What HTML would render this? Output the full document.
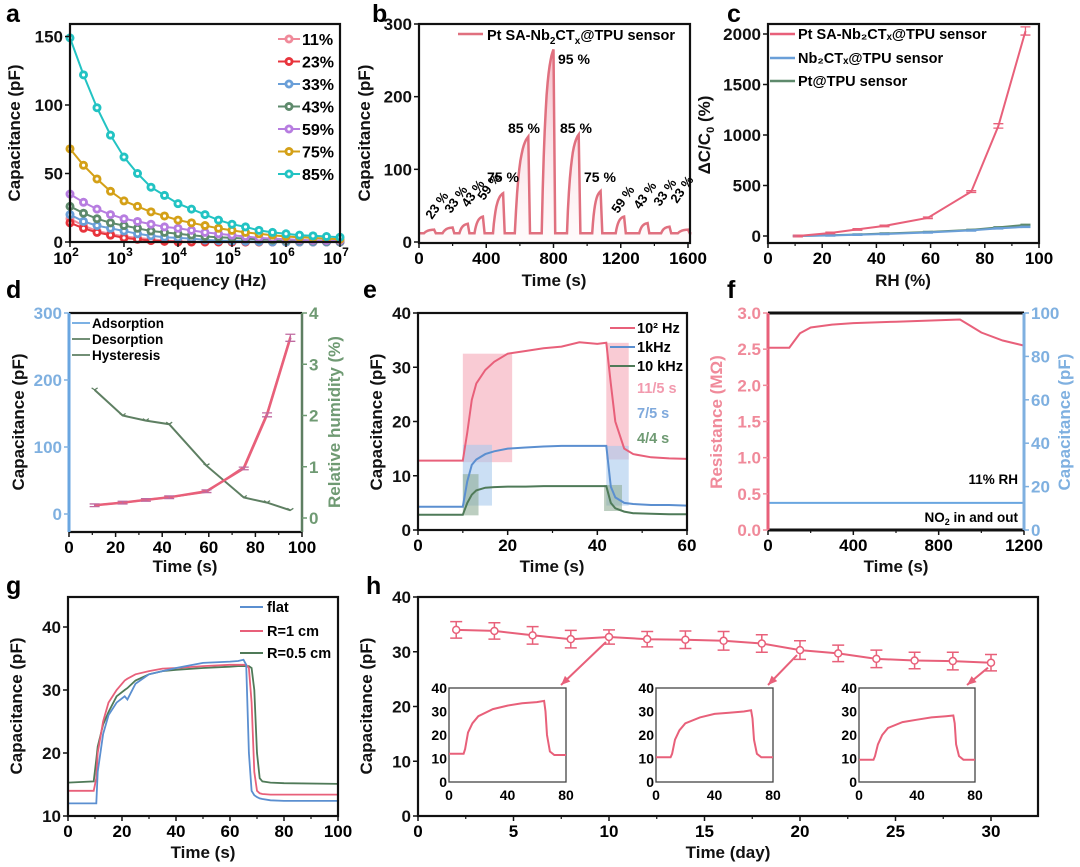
<!DOCTYPE html>
<html><head><meta charset="utf-8"><style>
html,body{margin:0;padding:0;background:#fff;}
svg{display:block;font-family:"Liberation Sans",Arial,sans-serif;font-weight:bold;}
</style></head><body>
<svg id="fig" width="1080" height="867" viewBox="0 0 1080 867" xmlns="http://www.w3.org/2000/svg"></svg>
<script>
// ---------- data ----------
const aExp=[2,2.25,2.5,2.75,3,3.25,3.5,3.75,4,4.25,4.5,4.75,5,5.25,5.5,5.75,6,6.25,6.5,6.75,7];
const aLabels=['11%','23%','33%','43%','59%','75%','85%'];
const aColors=['#f08a9a','#e8343c','#6a9fd8','#5e8a6c','#b77de0','#d4a017','#22c3c3'];
const a11=[17,12,8,6,4,3,2,1,0.5,0,0,0,0,0,0,0,0,0,0,0,0];
const a23=[14,10,7,5,3,2,1,0.5,0,0,0,0,0,0,0,0,0,0,0,0,0];
const a33=[20,15,12,10,8,6,4.5,3.5,3,2.5,1.5,1,0.8,0.5,0.3,0,0,0,0,0,0];
const a43=[26,21,17,14,12,10,8,7,6,5,4,3.5,3,2.5,2,1.5,1,1,0.8,0.6,0.5];
const a59=[35,29,24,20,17,15,13,11,10,8.5,7,6,5,4,3,2.5,2,1.5,1.2,1,1];
const a75=[68,56,46,37,30,26,22,19,16,14,12,10,8.5,7,6,5,4,3.5,3,2.5,2];
const a85=[149,122,98,78,62,50,40,34,28,24,20,16,13,11,8.5,7,6,5,4.5,4,3.5];
const bStarts=[30,140,240,330,440,570,730,880,1030,1170,1310,1440,1540];
const bEnds=[90,200,290,380,500,650,800,950,1080,1220,1360,1490,1600];
const bPeaks=[17,20,25,35,67,145,265,148,70,35,26,21,17];
const bBase=12;
const cRH=[11,23,33,43,59,75,85,95];
const cPt=[0,30,65,100,180,440,1090,2030];
const cNb=[0,5,12,20,35,55,75,90];
const cPtT=[0,8,15,25,40,60,85,110];
const dRH=[11,23,33,43,59,75,85,95];
const dAds=[13,17,21,25,34,68,148,263];
const dDes=[13,17,21,25,33,70,150,265];
const dHys=[2.5,2.0,1.9,1.83,1.02,0.4,0.3,0.15];
const eT=[0,10,11,12,13,15,17,20,24,28,32,36,40,42,43,44,46,48,52,56,60];
const ePink=[12.8,12.8,18,24,27,29.5,31,32.5,33,33.5,33.8,34.6,34.3,34.5,27,20,15,14,13.4,13.2,13.1];
const eBlue=[4.3,4.3,9,12,13,14,14.5,15,15.2,15.4,15.5,15.5,15.5,15.5,8,6,5,4.8,4.6,4.6,4.5];
const eGreen=[2.8,2.8,5,6.5,7.3,7.8,7.9,8,8,8.1,8.1,8.1,8.1,8.1,5,4,3.4,3.1,3,2.9,2.9];
const fT=[0,100,120,150,200,300,400,600,800,900,950,1000,1100,1200];
const fRes=[2.52,2.52,2.6,2.72,2.8,2.84,2.86,2.88,2.9,2.91,2.82,2.73,2.62,2.55];
const fCap=[12.5,12.5,12.5,12.5,12.5,12.5,12.5,12.5,12.5,12.5,12.5,12.5,12.5,12.5];
const gT=[0,9.5,10.5,11,13,15,18,21,22,25,30,35,40,50,60,63,65,66,67,68,69,70,71,72,75,80,100];
const gFlat=[12,12,12,17,23,26,28,29,28.5,31,32.5,33,33.5,34.3,34.5,34.6,34.8,34,20,14,13.3,13,12.8,12.7,12.5,12.4,12.4];
const gR1=[14,14,16,20,25,28,30,31.5,31.8,32.5,33,33.4,33.5,33.8,34,34,34,34,33.5,28,17,14,13.6,13.5,13.4,13.4,13.4];
const gR05=[15.3,15.5,19,21,24.5,26.5,29,30,30.3,31.5,32.5,33,33.2,33.5,33.7,33.8,33.8,33.8,33.8,33.5,30,20,16,15.5,15.3,15.2,15.1];
const hDays=[2,4,6,8,10,12,14,16,18,20,22,24,26,28,30];
const hCap=[34,33.8,33,32.3,32.7,32.3,32.2,32,31.5,30.3,29.7,28.7,28.4,28.3,28];
const hErr=[1.5,1.5,1.6,1.6,1.3,1.4,1.6,1.7,1.6,1.7,1.5,1.6,1.5,1.6,1.5];
const insT=[0,10,11,13,16,20,30,40,50,60,65,66,67,69,72,80];
const ins1=[12,12,14,21,25,28,31,32.5,33.5,34,34.5,30,20,13,11.5,11.5];
const ins2=[10.5,10.5,12,18,22,25,27.5,29,29.5,30,30.5,27,18,12,10.5,10.5];
const ins3=[9.5,9.5,11,16,20,23,25.5,26.5,27.5,28,28.3,25,16,11,9.5,9.5];

// ---------- helpers ----------
const NS='http://www.w3.org/2000/svg';
const svg=document.getElementById('fig');
function mk(parent,tag,attrs,name,txt){
  const el=document.createElementNS(NS,tag);
  for(const k in attrs) el.setAttribute(k,attrs[k]);
  
  
  if(txt!==undefined) el.textContent=txt;
  parent.appendChild(el);
  return el;
}
function lin(d0,d1,r0,r1){return v=>r0+(v-d0)/(d1-d0)*(r1-r0);}
function path(xs,ys,sx,sy){return xs.map((x,i)=>(i?'L':'M')+sx(x).toFixed(1)+','+sy(ys[i]).toFixed(1)).join(' ');}
function frame(g,x0,y0,x1,y1,name){mk(g,'rect',{x:x0,y:y0,width:x1-x0,height:y1-y0,fill:'none',stroke:'#111','stroke-width':2.2},name);}
function xAxis(g,ticks,sx,y1,fs,minor){
  ticks.forEach(t=>{
    mk(g,'line',{x1:sx(t),x2:sx(t),y1:y1,y2:y1+5,stroke:'#111','stroke-width':1.5},'x-tick');
    mk(g,'text',{x:sx(t),y:y1+21,'text-anchor':'middle','font-size':fs||17},'x-tick-label',String(t));
  });
  (minor||[]).forEach(t=>mk(g,'line',{x1:sx(t),x2:sx(t),y1:y1,y2:y1+3,stroke:'#111','stroke-width':1.2},'x-minor-tick'));
}
function yAxis(g,ticks,labels,sy,x0,fs,color,side){
  ticks.forEach((t,i)=>{
    const dir=side==='right'?1:-1;
    mk(g,'line',{x1:x0,x2:x0+dir*5,y1:sy(t),y2:sy(t),stroke:color||'#111','stroke-width':1.5},'y-tick');
    mk(g,'text',{x:x0+dir*7,y:sy(t)+6,'text-anchor':side==='right'?'start':'end','font-size':fs||17,fill:color||'#111'},'y-tick-label',labels[i]);
  });
}
function title(g,x,y,txt,name,rot,color,fs){
  const a={x:x,y:y,'text-anchor':'middle','font-size':fs||17,fill:color||'#111'};
  if(rot) a.transform='rotate(-90 '+x+' '+y+')';
  return mk(g,'text',a,name,txt);
}
function letter(x,y,l){mk(svg,'text',{x:x,y:y,'font-size':25},'panel-label-'+l,l);}

// ---------- panel a ----------
{
const g=mk(svg,'g',{},'panel-a');
const sx=lin(2,7,70,340), sy=lin(0,50,242,173.5);
const series=[a11,a23,a33,a43,a59,a75,a85];
series.forEach((s,i)=>{
  mk(g,'path',{d:path(aExp,s,sx,sy),fill:'none',stroke:aColors[i],'stroke-width':2},'line-'+aLabels[i]);
  aExp.forEach((e,j)=>{
    mk(g,'circle',{cx:sx(e),cy:sy(s[j]),r:4.5,fill:aColors[i]},'point-'+aLabels[i]);
    mk(g,'circle',{cx:sx(e),cy:sy(s[j]),r:1.6,fill:'#fff'},'point-center');
  });
});
frame(g,70,24,340,242,'plot-frame');
[2,3,4,5,6,7].forEach(e=>{
  mk(g,'line',{x1:sx(e),x2:sx(e),y1:242,y2:247,stroke:'#111','stroke-width':1.5},'x-tick');
  const t=mk(g,'text',{x:sx(e)-4,y:264,'text-anchor':'middle','font-size':17},'x-tick-label','10');
  const ts=document.createElementNS(NS,'tspan');ts.setAttribute('dy','-8');ts.setAttribute('font-size','12');ts.textContent=String(e);t.appendChild(ts);
});
yAxis(g,[0,50,100,150],['0','50','100','150'],sy,70);
title(g,205,286,'Frequency (Hz)','x-axis-title');
title(g,20,133,'Capacitance (pF)','y-axis-title',true);
aLabels.forEach((l,i)=>{
  const y=39+i*22.5;
  mk(g,'line',{x1:278,x2:300,y1:y,y2:y,stroke:aColors[i],'stroke-width':2},'legend-line');
  mk(g,'circle',{cx:289,cy:y,r:4.5,fill:aColors[i]},'legend-marker');
  mk(g,'circle',{cx:289,cy:y,r:1.6,fill:'#fff'},'legend-marker-center');
  mk(g,'text',{x:302,y:y+6,'font-size':16},'legend-entry',l);
});
letter(6,22,'a');
}
// ---------- panel b ----------
{
const g=mk(svg,'g',{},'panel-b');
const sx=lin(0,1600,419,688), sy=lin(0,300,242,24);
const defs=mk(svg,'defs',{},'defs');
const gr=mk(defs,'linearGradient',{id:'bgrad',x1:0,y1:0,x2:0,y2:1},'gradient');
mk(gr,'stop',{offset:'0','stop-color':'#e8607a','stop-opacity':'0.75'},'stop');
mk(gr,'stop',{offset:'1','stop-color':'#fbe3e8','stop-opacity':'0.3'},'stop');
let xs=[0],ys=[bBase];
bStarts.forEach((s,i)=>{
  const e=bEnds[i],p=bPeaks[i];
  xs.push(s);ys.push(bBase);
  for(let k=1;k<=12;k++){const t=s+(e-s)*k/12;xs.push(t);ys.push(bBase+(p-bBase)*(1-Math.exp(-3*k/12))/(1-Math.exp(-3)));}
  xs.push(e+10);ys.push(bBase);
});
xs.push(1620);ys.push(bBase);
const d=path(xs,ys,sx,sy);
mk(g,'path',{d:d+' L'+sx(1620)+','+sy(0)+' L'+sx(0)+','+sy(0)+' Z',fill:'url(#bgrad)',opacity:0.55},'area-fill');
mk(g,'path',{d:d,fill:'none',stroke:'#e0707f','stroke-width':2.5},'series-line');
frame(g,419,24,690,243,'plot-frame');
xAxis(g,[0,400,800,1200,1600],sx,243,17,[200,600,1000,1400]);
yAxis(g,[0,100,200,300],['0','100','200','300'],sy,419);
title(g,554,286,'Time (s)','x-axis-title');
title(g,370,133,'Capacitance (pF)','y-axis-title',true);
mk(g,'line',{x1:458,x2:483,y1:34,y2:34,stroke:'#e0707f','stroke-width':2.5},'legend-line');
const lt=mk(g,'text',{x:487,y:40,'font-size':14.5},'legend-entry','Pt SA-Nb');
[['2','10','4'],['CT','','-4'],['x','10','4'],['@TPU sensor','','-4']].forEach(([s,f,dy])=>{const ts=document.createElementNS(NS,'tspan');if(f)ts.setAttribute('font-size',f);ts.setAttribute('dy',dy);ts.textContent=s;lt.appendChild(ts);});
const hl=[['95 %',558,64],['85 %',508,133],['85 %',560,133],['75 %',487,182],['75 %',584,182]];
hl.forEach(a=>mk(g,'text',{x:a[1],y:a[2],'font-size':14},'peak-label',a[0]));
const rl=[['23 %',432,220],['33 %',451,214],['43 %',468,208],['59 %',484,201],['59 %',618,214],['43 %',640,210],['33 %',660,207],['23 %',677,204]];
rl.forEach(a=>mk(g,'text',{x:a[1],y:a[2],'font-size':13,transform:'rotate(-55 '+a[1]+' '+a[2]+')'},'peak-label',a[0]));
letter(372,22,'b');
}
// ---------- panel c ----------
{
const g=mk(svg,'g',{},'panel-c');
const sx=lin(0,100,768,1039), sy=lin(0,2000,236,34);
const cs=[[cPtT,'#5e8a6c','pt-tpu'],[cNb,'#6a9fd8','nb-tpu'],[cPt,'#e8607a','pt-sa-nb']];
cs.forEach(([s,c,n])=>{
  mk(g,'path',{d:path(cRH,s,sx,sy),fill:'none',stroke:c,'stroke-width':2},'line-'+n);
  cRH.forEach((x,i)=>{
    const e=n==='pt-sa-nb'?Math.max(8,s[i]*0.02):6;
    mk(g,'path',{d:'M'+sx(x)+','+sy(s[i]-e)+'V'+sy(s[i]+e)+'M'+(sx(x)-5)+','+sy(s[i]-e)+'h10M'+(sx(x)-5)+','+sy(s[i]+e)+'h10',stroke:c,'stroke-width':1.3,fill:'none'},'error-bar');
  });
});
frame(g,768,24,1039,243,'plot-frame');
xAxis(g,[0,20,40,60,80,100],sx,243,17,[10,30,50,70,90]);
yAxis(g,[0,500,1000,1500,2000],['0','500','1000','1500','2000'],sy,768);
title(g,903,286,'RH (%)','x-axis-title');
const yt=title(g,710,135,'ΔC/C','y-axis-title',true);
const t0=document.createElementNS(NS,'tspan');t0.setAttribute('font-size','11');t0.setAttribute('dy','4');t0.textContent='0';yt.appendChild(t0);
const t1=document.createElementNS(NS,'tspan');t1.setAttribute('dy','-4');t1.textContent=' (%)';yt.appendChild(t1);
const leg=[['Pt SA-Nb₂CTₓ@TPU sensor','#e8607a',34],['Nb₂CTₓ@TPU sensor','#6a9fd8',58],['Pt@TPU sensor','#5e8a6c',81]];
leg.forEach(([t,c,y])=>{
  mk(g,'line',{x1:770,x2:795,y1:y,y2:y,stroke:c,'stroke-width':2.5},'legend-line');
  mk(g,'text',{x:798,y:y+5,'font-size':14.5},'legend-entry',t);
});
letter(727,22,'c');
}
// ---------- panel d ----------
{
const g=mk(svg,'g',{},'panel-d');
const sx=lin(0,100,69,302), syL=lin(0,100,514,447), syR=lin(0,1,518,466.75);
mk(g,'path',{d:path(dRH,dHys,sx,syR),fill:'none',stroke:'#5e7f62','stroke-width':2},'line-hysteresis');
dRH.forEach((x,i)=>mk(g,'path',{d:'M'+(sx(x)-3)+','+(syR(dHys[i])-2)+'l3,2l3,-2',stroke:'#5e7f62',fill:'none','stroke-width':1.3},'point-hysteresis'));
mk(g,'path',{d:path(dRH,dDes,sx,syL),fill:'none',stroke:'#e8607a','stroke-width':2},'line-desorption');
mk(g,'path',{d:path(dRH,dAds,sx,syL),fill:'none',stroke:'#e8607a','stroke-width':2.5},'line-adsorption');
dRH.forEach((x,i)=>{const e=Math.max(2,dAds[i]*0.02);mk(g,'path',{d:'M'+sx(x)+','+syL(dAds[i]-e)+'V'+syL(dAds[i]+e)+'M'+(sx(x)-5)+','+syL(dAds[i]-e)+'h10M'+(sx(x)-5)+','+syL(dAds[i]+e)+'h10',stroke:'#c06aa0','stroke-width':1.3,fill:'none'},'error-bar');});
mk(g,'line',{x1:69,x2:302,y1:313,y2:313,stroke:'#111','stroke-width':2.2},'top-border');
mk(g,'line',{x1:69,x2:302,y1:532,y2:532,stroke:'#111','stroke-width':2.2},'bottom-border');
mk(g,'line',{x1:69,x2:69,y1:313,y2:532,stroke:'#6aa6e0','stroke-width':3},'left-axis-line');
mk(g,'line',{x1:302,x2:302,y1:313,y2:532,stroke:'#5e7f62','stroke-width':2.5},'right-axis-line');
xAxis(g,[0,20,40,60,80,100],sx,532,17,[10,30,50,70,90]);
yAxis(g,[0,100,200,300],['0','100','200','300'],syL,69,17,'#7fb0e0');
yAxis(g,[0,1,2,3,4],['0','1','2','3','4'],syR,302,17,'#6f9a73','right');
title(g,185,572,'Time (s)','x-axis-title');
title(g,24,422,'Capacitance (pF)','y-axis-title',true);
title(g,340,422,'Relative humidity (%)','y-axis-title-right',true,'#6f9a73');
[['Adsorption','#6aa6e0',323],['Desorption','#5e7f62',339],['Hysteresis','#5e7f62',355]].forEach(([t,c,y])=>{
  mk(g,'line',{x1:72,x2:90,y1:y,y2:y,stroke:c,'stroke-width':1.8},'legend-line');
  mk(g,'text',{x:92,y:y+5,'font-size':13.5},'legend-entry',t);
});
letter(6,298,'d');
}
// ---------- panel e ----------
{
const g=mk(svg,'g',{},'panel-e');
const sx=lin(0,60,418,687), sy=lin(0,40,530,313);
const rects=[[10,21,12.5,32.5,'#f5a8b8'],[42,47,13,34.5,'#f5a8b8'],[10,16.5,4.5,15.7,'#a9c9ec'],[42,47,4.5,15.5,'#a9c9ec'],[10,13.5,2.7,10.3,'#8fae96'],[41.5,45.5,3.5,8.3,'#8fae96']];
rects.forEach(r=>mk(g,'rect',{x:sx(r[0]),y:sy(r[3]),width:sx(r[1])-sx(r[0]),height:sy(r[2])-sy(r[3]),fill:r[4],opacity:0.6},'response-time-box'));
mk(g,'path',{d:path(eT,ePink,sx,sy),fill:'none',stroke:'#e8607a','stroke-width':2},'line-100hz');
mk(g,'path',{d:path(eT,eBlue,sx,sy),fill:'none',stroke:'#5b8fd0','stroke-width':2},'line-1khz');
mk(g,'path',{d:path(eT,eGreen,sx,sy),fill:'none',stroke:'#4f7a58','stroke-width':2},'line-10khz');
frame(g,418,313,687,530,'plot-frame');
xAxis(g,[0,20,40,60],sx,530,17,[10,30,50]);
yAxis(g,[0,10,20,30,40],['0','10','20','30','40'],sy,418);
title(g,552,572,'Time (s)','x-axis-title');
title(g,382,422,'Capacitance (pF)','y-axis-title',true);
[['10² Hz','#e8607a',328],['1kHz','#5b8fd0',347],['10 kHz','#4f7a58',366]].forEach(([t,c,y])=>{
  mk(g,'line',{x1:610,x2:635,y1:y,y2:y,stroke:c,'stroke-width':2},'legend-line');
  mk(g,'text',{x:637,y:y+5,'font-size':14.5},'legend-entry',t);
});
[['11/5 s','#f29aae',393],['7/5 s','#7fa9dc',418],['4/4 s','#6f9a73',443]].forEach(([t,c,y])=>mk(g,'text',{x:637,y:y,'font-size':14.5,fill:c},'response-time-label',t));
letter(363,298,'e');
}
// ---------- panel f ----------
{
const g=mk(svg,'g',{},'panel-f');
const sx=lin(0,1200,768,1024), syL=lin(0,3,530,313), syR=lin(0,100,530,313);
mk(g,'path',{d:path(fT,fRes,sx,syL),fill:'none',stroke:'#e8607a','stroke-width':2},'line-resistance');
mk(g,'path',{d:path(fT,fCap,sx,syR),fill:'none',stroke:'#6aa6e0','stroke-width':2},'line-capacitance');
mk(g,'line',{x1:768,x2:1024,y1:313,y2:313,stroke:'#111','stroke-width':3},'top-border');
mk(g,'line',{x1:768,x2:1024,y1:530,y2:530,stroke:'#111','stroke-width':3},'bottom-border');
mk(g,'line',{x1:768,x2:768,y1:313,y2:530,stroke:'#e8607a','stroke-width':3},'left-axis-line');
mk(g,'line',{x1:1024,x2:1024,y1:313,y2:530,stroke:'#7fb0e0','stroke-width':3},'right-axis-line');
xAxis(g,[0,400,800,1200],sx,530,17,[200,600,1000]);
yAxis(g,[0,0.5,1,1.5,2,2.5,3],['0.0','0.5','1.0','1.5','2.0','2.5','3.0'],syL,768,17,'#f08a9a');
yAxis(g,[0,20,40,60,80,100],['0','20','40','60','80','100'],syR,1024,17,'#7fb0e0','right');
title(g,896,572,'Time (s)','x-axis-title');
title(g,722,422,'Resistance (MΩ)','y-axis-title-left',true,'#f08a9a');
title(g,1070,422,'Capacitance (pF)','y-axis-title-right',true,'#7fb0e0');
mk(g,'text',{x:1018,y:484,'text-anchor':'end','font-size':13.5},'annotation-rh','11% RH');
const n=mk(g,'text',{x:1018,y:522,'text-anchor':'end','font-size':13.5},'annotation-no2','NO');
const s1=document.createElementNS(NS,'tspan');s1.setAttribute('font-size','9');s1.setAttribute('dy','3');s1.textContent='2';n.appendChild(s1);
const s2=document.createElementNS(NS,'tspan');s2.setAttribute('dy','-3');s2.textContent=' in and out';n.appendChild(s2);
letter(727,298,'f');
}
// ---------- panel g ----------
{
const g=mk(svg,'g',{},'panel-g');
const sx=lin(0,100,68,338), sy=lin(10,20,816,753);
mk(g,'path',{d:path(gT,gR05,sx,sy),fill:'none',stroke:'#4f7a58','stroke-width':1.8},'line-r05');
mk(g,'path',{d:path(gT,gR1,sx,sy),fill:'none',stroke:'#e8607a','stroke-width':1.8},'line-r1');
mk(g,'path',{d:path(gT,gFlat,sx,sy),fill:'none',stroke:'#5b8fd0','stroke-width':1.8},'line-flat');
frame(g,68,597,338,816,'plot-frame');
xAxis(g,[0,20,40,60,80,100],sx,816,17,[10,30,50,70,90]);
yAxis(g,[10,20,30,40],['10','20','30','40'],sy,68);
title(g,203,858,'Time (s)','x-axis-title');
title(g,22,706,'Capacitance (pF)','y-axis-title',true);
[['flat','#5b8fd0',607],['R=1 cm','#e8607a',631],['R=0.5 cm','#4f7a58',653]].forEach(([t,c,y])=>{
  mk(g,'line',{x1:240,x2:263,y1:y,y2:y,stroke:c,'stroke-width':2},'legend-line');
  mk(g,'text',{x:267,y:y+5,'font-size':14.5},'legend-entry',t);
});
letter(6,594,'g');
}
// ---------- panel h ----------
{
const g=mk(svg,'g',{},'panel-h');
const sx=lin(0,30,418,991), sy=lin(0,40,816,597);
mk(g,'path',{d:path(hDays,hCap,sx,sy),fill:'none',stroke:'#e8607a','stroke-width':2},'line-stability');
hDays.forEach((x,i)=>{
  const e=hErr[i];
  mk(g,'path',{d:'M'+sx(x)+','+sy(hCap[i]-e)+'V'+sy(hCap[i]+e)+'M'+(sx(x)-6)+','+sy(hCap[i]-e)+'h12M'+(sx(x)-6)+','+sy(hCap[i]+e)+'h12',stroke:'#e8607a','stroke-width':1.5,fill:'none'},'error-bar');
  mk(g,'circle',{cx:sx(x),cy:sy(hCap[i]),r:3.5,fill:'#fff',stroke:'#e8607a','stroke-width':1.5},'point');
});
frame(g,418,597,1038,816,'plot-frame');
xAxis(g,[0,5,10,15,20,25,30],sx,816,17,[2.5,7.5,12.5,17.5,22.5,27.5]);
yAxis(g,[0,10,20,30,40],['0','10','20','30','40'],sy,418);
title(g,728,858,'Time (day)','x-axis-title');
title(g,372,706,'Capacitance (pF)','y-axis-title',true);
const insets=[[449,566,ins1,10,32.7,561],[656,773,ins2,20,30.3,768],[859,975,ins3,30,28,967]];
insets.forEach(([x0,x1,data,day,val,ax],k)=>{
  const ig=mk(g,'g',{},'inset-'+(k+1));
  const isx=lin(0,80,x0,x1), isy=lin(0,40,782,688);
  mk(ig,'rect',{x:x0,y:688,width:x1-x0,height:94,fill:'#fff',stroke:'#444','stroke-width':1.3},'inset-frame');
  mk(ig,'path',{d:path(insT,data,isx,isy),fill:'none',stroke:'#e8607a','stroke-width':2},'inset-line');
  [0,10,20,30,40].forEach(t=>mk(ig,'text',{x:x0-2,y:isy(t)+5,'text-anchor':'end','font-size':14},'inset-y-label',String(t)));
  [0,40,80].forEach(t=>mk(ig,'text',{x:isx(t),y:800,'text-anchor':'middle','font-size':14},'inset-x-label',String(t)));
  mk(g,'line',{x1:sx(day)-3,y1:sy(val)+5,x2:ax,y2:685,stroke:'#e8607a','stroke-width':2},'arrow-line');
  const ang=Math.atan2(685-(sy(val)+5),ax-(sx(day)-3));
  const p1=[ax-10*Math.cos(ang-0.4),685-10*Math.sin(ang-0.4)],p2=[ax-10*Math.cos(ang+0.4),685-10*Math.sin(ang+0.4)];
  mk(g,'path',{d:'M'+ax+',685L'+p1.join(',')+'L'+p2.join(',')+'Z',fill:'#e8607a'},'arrow-head');
});
letter(366,594,'h');
}
</script>
</body></html>
